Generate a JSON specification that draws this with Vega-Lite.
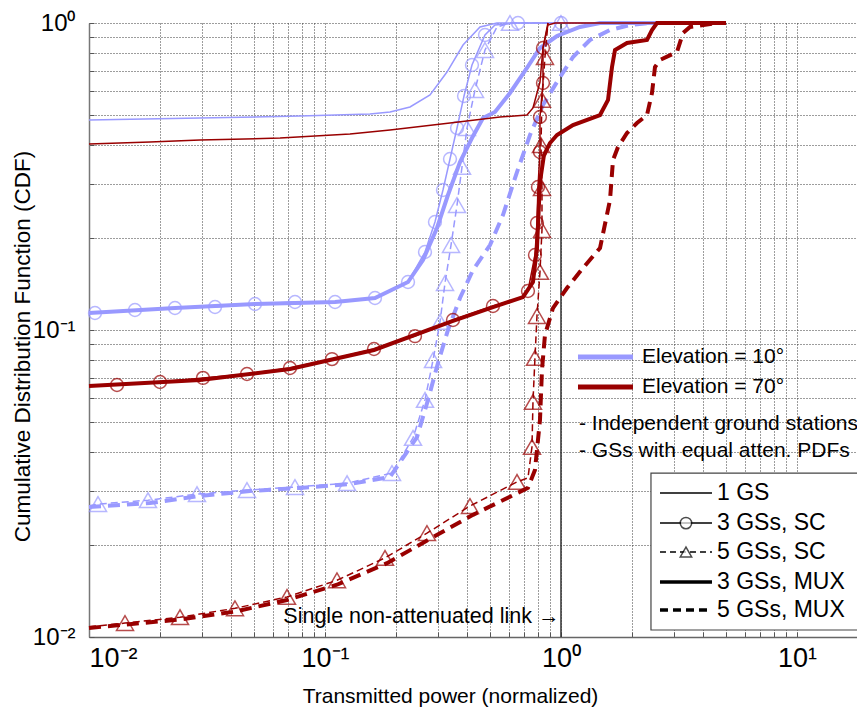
{
"$schema":"https://vega.github.io/schema/vega-lite/v6.json",
"width":768,"height":614,
"autosize":{"type":"none"},
"padding":{"left":89,"top":23,"right":0,"bottom":73},
"background":"white",
"config":{"view":{"stroke":null},"font":"Liberation Sans","text":{"font":"Liberation Sans"}},
"datasets":{
"B1":[{"x":0.01,"y":0.4831},{"x":0.02953,"y":0.4904},{"x":0.0784,"y":0.4978},{"x":0.1551,"y":0.5053},{"x":0.1886,"y":0.5129},{"x":0.2292,"y":0.5326},{"x":0.2786,"y":0.5828},{"x":0.3288,"y":0.6924},{"x":0.3845,"y":0.8479},{"x":0.4538,"y":0.9704},{"x":0.5355,"y":1},{"x":5,"y":1}],
"B3SC":[{"x":0.01,"y":0.1136,"m":0},{"x":0.0106,"y":0.1136,"m":1},{"x":0.01566,"y":0.1162,"m":1},{"x":0.02314,"y":0.1179,"m":1},{"x":0.0342,"y":0.1188,"m":1},{"x":0.05051,"y":0.1215,"m":1},{"x":0.07462,"y":0.1234,"m":1},{"x":0.1103,"y":0.1234,"m":1},{"x":0.1629,"y":0.1271,"m":1},{"x":0.2248,"y":0.1433,"m":1},{"x":0.2653,"y":0.1795,"m":1},{"x":0.2924,"y":0.2248,"m":1},{"x":0.3162,"y":0.2857,"m":1},{"x":0.3386,"y":0.3606,"m":1},{"x":0.3626,"y":0.4549,"m":1},{"x":0.3882,"y":0.5784,"m":1},{"x":0.4196,"y":0.7298,"m":1},{"x":0.4764,"y":0.914,"m":1},{"x":0.5251,"y":0.9851,"m":0},{"x":0.6574,"y":1,"m":1},{"x":1,"y":1,"m":1}],
"B3MUX":[{"x":0.01,"y":0.1136},{"x":0.02314,"y":0.1179},{"x":0.05051,"y":0.1215},{"x":0.1103,"y":0.1234},{"x":0.1629,"y":0.1271},{"x":0.2248,"y":0.1433},{"x":0.2602,"y":0.169},{"x":0.2982,"y":0.2149},{"x":0.332,"y":0.2752},{"x":0.3733,"y":0.3526},{"x":0.4196,"y":0.422},{"x":0.4672,"y":0.4904},{"x":0.5251,"y":0.5129},{"x":0.608,"y":0.5916},{"x":0.7177,"y":0.7136},{"x":0.8146,"y":0.829},{"x":0.9617,"y":0.9071},{"x":1.2036,"y":0.9704},{"x":1.4632,"y":1},{"x":5,"y":1}],
"B5SC":[{"x":0.01,"y":0.0267,"m":0},{"x":0.01092,"y":0.0271,"m":1},{"x":0.01778,"y":0.0279,"m":1},{"x":0.02868,"y":0.0292,"m":1},{"x":0.04672,"y":0.0301,"m":1},{"x":0.07462,"y":0.0308,"m":1},{"x":0.124,"y":0.0317,"m":1},{"x":0.1923,"y":0.0342,"m":1},{"x":0.236,"y":0.0445,"m":1},{"x":0.2653,"y":0.0592,"m":1},{"x":0.2869,"y":0.0798,"m":1},{"x":0.3071,"y":0.1062,"m":1},{"x":0.3225,"y":0.1422,"m":1},{"x":0.342,"y":0.1891,"m":1},{"x":0.3626,"y":0.2553,"m":1},{"x":0.3807,"y":0.3397,"m":1},{"x":0.3997,"y":0.4549,"m":1},{"x":0.4321,"y":0.605,"m":1},{"x":0.4764,"y":0.8166,"m":1},{"x":0.5355,"y":0.9704,"m":0},{"x":0.608,"y":1,"m":1},{"x":1,"y":1,"m":1}],
"B5MUX":[{"x":0.01,"y":0.0265},{"x":0.01813,"y":0.0273},{"x":0.02953,"y":0.0288},{"x":0.0481,"y":0.0299},{"x":0.0784,"y":0.0306},{"x":0.1276,"y":0.0315},{"x":0.1886,"y":0.0332},{"x":0.2183,"y":0.0392},{"x":0.2454,"y":0.0448},{"x":0.2732,"y":0.0592},{"x":0.3011,"y":0.0781},{"x":0.332,"y":0.1},{"x":0.3733,"y":0.1271},{"x":0.4237,"y":0.1568},{"x":0.5003,"y":0.1891},{"x":0.5678,"y":0.2369},{"x":0.651,"y":0.327},{"x":0.7389,"y":0.4316},{"x":0.8388,"y":0.5406},{"x":0.9617,"y":0.6424},{"x":1.1243,"y":0.7749},{"x":1.327,"y":0.8805},{"x":1.6133,"y":0.9489},{"x":1.9607,"y":0.9851},{"x":2.3831,"y":1},{"x":5,"y":1}],
"R1":[{"x":0.01,"y":0.4035},{"x":0.01813,"y":0.4097},{"x":0.02953,"y":0.4157},{"x":0.0645,"y":0.422},{"x":0.1276,"y":0.4348},{"x":0.1886,"y":0.4481},{"x":0.3386,"y":0.4723},{"x":0.5514,"y":0.4941},{"x":0.7177,"y":0.5015},{"x":0.7608,"y":0.5286},{"x":0.8146,"y":0.6424},{"x":0.8388,"y":0.829},{"x":0.8807,"y":0.9851},{"x":0.9432,"y":1},{"x":5,"y":1}],
"R3SC":[{"x":0.01,"y":0.0662,"m":0},{"x":0.01314,"y":0.0662,"m":1},{"x":0.02,"y":0.0677,"m":1},{"x":0.03041,"y":0.0698,"m":1},{"x":0.04672,"y":0.0719,"m":1},{"x":0.07107,"y":0.0752,"m":1},{"x":0.10707,"y":0.0804,"m":1},{"x":0.16131,"y":0.0867,"m":1},{"x":0.2406,"y":0.0955,"m":1},{"x":0.3486,"y":0.1078,"m":1},{"x":0.515,"y":0.1197,"m":1},{"x":0.6902,"y":0.128,"m":0},{"x":0.7246,"y":0.134,"m":1},{"x":0.7758,"y":0.1755,"m":1},{"x":0.7911,"y":0.2231,"m":1},{"x":0.7989,"y":0.2922,"m":1},{"x":0.8146,"y":0.3801,"m":1},{"x":0.8146,"y":0.4941,"m":1},{"x":0.8388,"y":0.6376,"m":1},{"x":0.8388,"y":0.829,"m":1},{"x":0.8807,"y":1,"m":0}],
"R3MUX":[{"x":0.01,"y":0.0657},{"x":0.02953,"y":0.0687},{"x":0.07107,"y":0.0746},{"x":0.16131,"y":0.0861},{"x":0.3486,"y":0.107},{"x":0.515,"y":0.1188},{"x":0.6902,"y":0.128},{"x":0.7608,"y":0.1433},{"x":0.7911,"y":0.1849},{"x":0.8146,"y":0.3033},{"x":0.847,"y":0.3716},{"x":0.8981,"y":0.4065},{"x":0.9617,"y":0.4316},{"x":1.1243,"y":0.4653},{"x":1.4632,"y":0.5015},{"x":1.5822,"y":0.5613},{"x":1.6451,"y":0.719},{"x":1.6939,"y":0.8166},{"x":1.9042,"y":0.8607},{"x":2.3144,"y":0.8805},{"x":2.43,"y":0.9489},{"x":2.5516,"y":1},{"x":5,"y":1}],
"R5SC":[{"x":0.01,"y":0.0108,"m":0},{"x":0.01421,"y":0.0111,"m":1},{"x":0.0243,"y":0.0116,"m":1},{"x":0.04155,"y":0.0124,"m":1},{"x":0.06902,"y":0.0135,"m":1},{"x":0.11243,"y":0.0153,"m":1},{"x":0.17958,"y":0.0181,"m":1},{"x":0.2705,"y":0.0218,"m":1},{"x":0.4115,"y":0.0267,"m":1},{"x":0.651,"y":0.032,"m":1},{"x":0.7246,"y":0.033,"m":0},{"x":0.7535,"y":0.0416,"m":1},{"x":0.7608,"y":0.0583,"m":1},{"x":0.7758,"y":0.0811,"m":1},{"x":0.7911,"y":0.111,"m":1},{"x":0.8146,"y":0.1545,"m":1},{"x":0.8307,"y":0.2117,"m":1},{"x":0.8307,"y":0.29,"m":1},{"x":0.8226,"y":0.4004,"m":1},{"x":0.8307,"y":0.5613,"m":1},{"x":0.8553,"y":0.7749,"m":1},{"x":0.8807,"y":1,"m":0}],
"R5MUX":[{"x":0.01,"y":0.0107},{"x":0.0243,"y":0.0114},{"x":0.04155,"y":0.0121},{"x":0.06902,"y":0.0132},{"x":0.11243,"y":0.0148},{"x":0.18312,"y":0.0174},{"x":0.2732,"y":0.0207},{"x":0.4237,"y":0.025},{"x":0.7246,"y":0.0306},{"x":0.7758,"y":0.035},{"x":0.8146,"y":0.0509},{"x":0.8307,"y":0.0741},{"x":0.8553,"y":0.0963},{"x":0.925,"y":0.1179},{"x":1.0603,"y":0.137},{"x":1.2398,"y":0.1592},{"x":1.4632,"y":0.1849},{"x":1.6133,"y":0.2651},{"x":1.6612,"y":0.3579},{"x":1.7443,"y":0.3945},{"x":1.9042,"y":0.4381},{"x":2.0993,"y":0.4723},{"x":2.3144,"y":0.5015},{"x":2.43,"y":0.5916},{"x":2.5022,"y":0.719},{"x":2.6273,"y":0.7577},{"x":3.1009,"y":0.8044},{"x":3.2874,"y":0.9278},{"x":3.521,"y":0.9704},{"x":4.5823,"y":1},{"x":5,"y":1}],
"legbox":[{"x":2.406,"x2":30,"y":0.0342,"y2":0.01054}],
"leg":[{"t":"1GS","x":2.6273,"y":0.02944},{"t":"1GS","x":4.3636,"y":0.02944},{"t":"3SC","x":2.6273,"y":0.0235},{"t":"3SC","x":4.3636,"y":0.0235},{"t":"5SC","x":2.6273,"y":0.01891},{"t":"5SC","x":4.3636,"y":0.01891},{"t":"3MUX","x":2.6273,"y":0.0151},{"t":"3MUX","x":4.3636,"y":0.0151},{"t":"5MUX","x":2.6273,"y":0.01225},{"t":"5MUX","x":4.3636,"y":0.01225}],
"legmk":[{"t":"3SC","x":3.385,"y":0.0235},{"t":"5SC","x":3.385,"y":0.01891}],
"legtxt":[{"label":"1 GS","x":4.5817,"y":0.02944},{"label":"3 GSs, SC","x":4.5817,"y":0.0235},{"label":"5 GSs, SC","x":4.5817,"y":0.01891},{"label":"3 GSs, MUX","x":4.5817,"y":0.0151},{"label":"5 GSs, MUX","x":4.5817,"y":0.01225}],
"elev":[{"e":"10","x":1.1804,"y":0.0817},{"e":"10","x":2.0185,"y":0.0817},{"e":"70","x":1.1804,"y":0.0652},{"e":"70","x":2.0185,"y":0.0652}],
"notes":[{"label":"Elevation = 10°","x":2.2039,"y":0.0817},{"label":"Elevation = 70°","x":2.2039,"y":0.0652},{"label":"- Independent ground stations","x":1.1917,"y":0.0494},{"label":"- GSs with equal atten. PDFs","x":1.1917,"y":0.0404}]
},
"encoding":{
"x":{"field":"x","type":"quantitative","scale":{"type":"log","domain":[0.01,17.96],"nice":false},
"axis":{"values":[0.01,0.02,0.03,0.04,0.05,0.06,0.07,0.08,0.09,0.1,0.2,0.3,0.4,0.5,0.6,0.7,0.8,0.9,1,2,3,4,5,6,7,8,9,10],
"labelExpr":"datum.value==0.01?'10⁻²':datum.value==0.1?'10⁻¹':datum.value==1?'10⁰':datum.value==10?'10¹':''",
"labelOverlap":false,"labelFontSize":27,"labelColor":"black","labelFont":"Liberation Sans","labelPadding":13,"labelBaseline":"top",
"grid":true,"gridDash":[1,2],"gridColor":"#3a3a3a","gridWidth":1,
"tickSize":-5,"tickColor":"#555","domainColor":"#666","domainWidth":1.5,
"title":"Transmitted power (normalized)","titleFontSize":21,"titleFontWeight":"normal","titleFont":"Liberation Sans","titleColor":"black","titleX":361,"titleY":65,"titleBaseline":"alphabetic","titleAnchor":"middle"}},
"y":{"field":"y","type":"quantitative","scale":{"type":"log","domain":[0.01,1],"nice":false},
"axis":{"values":[0.01,0.02,0.03,0.04,0.05,0.06,0.07,0.08,0.09,0.1,0.2,0.3,0.4,0.5,0.6,0.7,0.8,0.9,1],
"labelExpr":"datum.value==0.01?'10⁻²':datum.value==0.1?'10⁻¹':datum.value==1?'10⁰':''",
"labelOverlap":false,"labelFontSize":24,"labelColor":"black","labelFont":"Liberation Sans","labelPadding":19,
"grid":true,"gridDash":[1,2],"gridColor":"#3a3a3a","gridWidth":1,
"tickSize":-5,"tickColor":"#555","domainColor":"#777","domainWidth":1.5,
"title":"Cumulative Distribution Function (CDF)","titleFontSize":22.5,"titleFontWeight":"normal","titleFont":"Liberation Sans","titleColor":"black","titleX":-67,"titleY":323,"titleBaseline":"middle","titleAngle":-90,"titleAnchor":"middle"}}
},
"layer":[
{"data":{"values":[{"x":1,"y":0.01,"y2":1}]},"mark":{"type":"rule","color":"#333","strokeWidth":1.5},"encoding":{"y2":{"field":"y2"}}},
{"data":{"name":"B1"},"mark":{"type":"line","color":"#9999ff","strokeWidth":1.5},"encoding":{"order":{"value":null}}},
{"data":{"name":"B3MUX"},"mark":{"type":"line","color":"#9999ff","strokeWidth":4},"encoding":{"order":{"value":null}}},
{"data":{"name":"B5MUX"},"mark":{"type":"line","color":"#9999ff","strokeWidth":4,"strokeDash":[12,7]},"encoding":{"order":{"value":null}}},
{"data":{"name":"B3SC"},"mark":{"type":"line","color":"#9999ff","strokeWidth":1.5},"encoding":{"order":{"value":null}}},
{"data":{"name":"B5SC"},"mark":{"type":"line","color":"#9999ff","strokeWidth":1.5,"strokeDash":[7,4]},"encoding":{"order":{"value":null}}},
{"data":{"name":"B3SC"},"transform":[{"filter":"datum.m==1"}],"mark":{"type":"point","shape":"circle","filled":false,"color":"#9999ff","size":165,"strokeWidth":1.5}},
{"data":{"name":"B5SC"},"transform":[{"filter":"datum.m==1"}],"mark":{"type":"point","shape":"triangle-up","filled":false,"color":"#9999ff","size":290,"strokeWidth":1.5}},
{"data":{"name":"R1"},"mark":{"type":"line","color":"#990000","strokeWidth":1.5},"encoding":{"order":{"value":null}}},
{"data":{"name":"R3MUX"},"mark":{"type":"line","color":"#990000","strokeWidth":4},"encoding":{"order":{"value":null}}},
{"data":{"name":"R5MUX"},"mark":{"type":"line","color":"#990000","strokeWidth":4,"strokeDash":[12,7]},"encoding":{"order":{"value":null}}},
{"data":{"name":"R3SC"},"mark":{"type":"line","color":"#990000","strokeWidth":1.5},"encoding":{"order":{"value":null}}},
{"data":{"name":"R5SC"},"mark":{"type":"line","color":"#990000","strokeWidth":1.5,"strokeDash":[7,4]},"encoding":{"order":{"value":null}}},
{"data":{"name":"R3SC"},"transform":[{"filter":"datum.m==1"}],"mark":{"type":"point","shape":"circle","filled":false,"color":"#990000","size":165,"strokeWidth":1.5}},
{"data":{"name":"R5SC"},"transform":[{"filter":"datum.m==1"}],"mark":{"type":"point","shape":"triangle-up","filled":false,"color":"#990000","size":290,"strokeWidth":1.5}},
{"data":{"values":[{"x":0.985,"y":0.01162,"label":"Single non-attenuated link →"}]},"mark":{"type":"text","align":"right","baseline":"middle","fontSize":21.5,"color":"black"},"encoding":{"text":{"field":"label"}}},
{"data":{"name":"legbox"},"mark":{"type":"rect","fill":"white","stroke":"#444","strokeWidth":1.2,"clip":true},"encoding":{"x2":{"field":"x2"},"y2":{"field":"y2"}}},
{"data":{"name":"leg"},"transform":[{"filter":"datum.t=='1GS' || datum.t=='3SC'"}],"mark":{"type":"line","color":"black","strokeWidth":1.5},"encoding":{"detail":{"field":"t"}}},
{"data":{"name":"leg"},"transform":[{"filter":"datum.t=='5SC'"}],"mark":{"type":"line","color":"black","strokeWidth":1.5,"strokeDash":[6,4]},"encoding":{}},
{"data":{"name":"leg"},"transform":[{"filter":"datum.t=='3MUX'"}],"mark":{"type":"line","color":"black","strokeWidth":3.5},"encoding":{}},
{"data":{"name":"leg"},"transform":[{"filter":"datum.t=='5MUX'"}],"mark":{"type":"line","color":"black","strokeWidth":3.5,"strokeDash":[8,5]},"encoding":{}},
{"data":{"name":"legmk"},"mark":{"type":"point","filled":false,"fill":"white","color":"black","size":130,"strokeWidth":1.5},"encoding":{"shape":{"field":"t","type":"nominal","scale":{"domain":["3SC","5SC"],"range":["circle","triangle-up"]},"legend":null}}},
{"data":{"name":"legtxt"},"mark":{"type":"text","align":"left","baseline":"middle","fontSize":23,"color":"black"},"encoding":{"text":{"field":"label"}}},
{"data":{"name":"elev"},"mark":{"type":"line","strokeWidth":5},"encoding":{"detail":{"field":"e"},"color":{"field":"e","type":"nominal","scale":{"domain":["10","70"],"range":["#9999ff","#990000"]},"legend":null}}},
{"data":{"name":"notes"},"mark":{"type":"text","align":"left","baseline":"middle","fontSize":21,"color":"black"},"encoding":{"text":{"field":"label"}}}
]
}
